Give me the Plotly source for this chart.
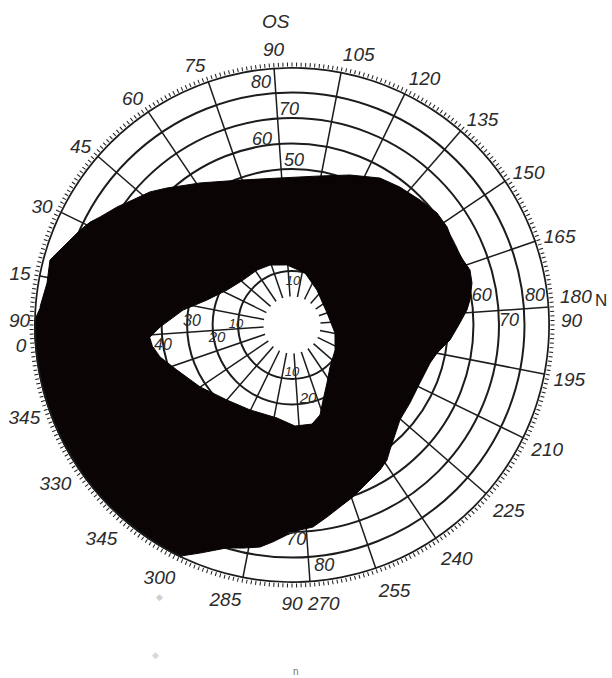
import plotly.graph_objects as go

# ---------------------------------------------------------------- data ----
# meridians printed around the rim (degrees) and the labels printed at them
ANGLE_TICKS = list(range(0, 360, 15))
ANGLE_LABELS = ["0", "15", "30", "45", "60", "75", "90", "105", "120", "135",
                "150", "165", "", "195", "210", "225", "240", "255", "90 270",
                "285", "300", "345", "330", "345"]

# isopter circles (degrees of eccentricity) and the field limit
RINGS = [10, 20, 30, 40, 50, 60, 70, 80]
FIELD_LIMIT = 90

# eccentricity numbers written along the meridians
RING_LABELS = ["80", "70", "60", "50",
               "60", "70", "80",
               "70", "80",
               "10", "20", "30", "40",
               "10",
               "10", "20"]
# numbers written just outside the rim beside the 0 and 180 meridians
RIM_LABELS = ["90", "180", "90"]

# scotoma, outer edge: meridian (deg) and eccentricity (deg)
SCOTOMA_OUTER_THETA = [8.1, 13.7, 19.0, 19.9, 22.8, 28.1, 31.0, 33.4, 38.0, 42.2,
                       47.1, 51.6, 57.1, 61.1, 74.3, 89.3, 104.6, 115.1, 124.9,
                       132.0, 139.7, 146.3, 151.7, 157.0, 163.2, 166.8, 170.9,
                       176.0, 179.1, 183.3, 189.4, 194.9, 199.4, 208.4, 217.5,
                       225.3, 235.9, 238.9, 242.8, 248.6, 254.5, 259.2, 263.7,
                       268.1, 271.8, 275.4, 279.0, 282.2, 286.4, 290.3, 296.0,
                       299.4, 300, 315, 330, 345, 0, 5]
SCOTOMA_OUTER_R = [87.9, 86.3, 87.1, 86.3, 83.7, 79.9, 77.7, 75.2, 71.6, 68.2,
                   65.2, 61.6, 57.5, 55.2, 49.2, 46.7, 48.3, 51.9, 56.0,
                   57.5, 59.0, 60.7, 60.8, 59.7, 60.6, 61.9, 61.3,
                   59.3, 57.7, 54.7, 51.1, 46.8, 45.0, 43.9, 44.3,
                   45.2, 51.1, 53.6, 55.4, 57.4, 60.4, 62.6, 65.4,
                   68.5, 69.3, 71.2, 74.2, 76.8, 78.4, 79.9, 85.3,
                   89.0, 96, 96, 96, 96, 96, 90]

# scotoma, inner edge around the spared central island
SCOTOMA_INNER_THETA = [359.2, 3.1, 11.8, 20.4, 32.3, 46.6, 61.5, 73.9, 89.2,
                       108.0, 129.5, 165.1, 194.5, 214.2, 231.9, 242.9, 251.5,
                       256.7, 262.6, 272.3, 283.2, 300.3, 314.9, 330.0, 342.6,
                       350.4, 355.0]
SCOTOMA_INNER_R = [44.7, 40.6, 32.0, 23.6, 17.8, 14.9, 14.4, 13.9, 12.5,
                   9.9, 5.7, 3.4, 6.0, 8.4, 11.1, 15.4, 20.7,
                   25.8, 28.5, 28.5, 25.8, 26.0, 27.8, 32.3, 37.3,
                   42.1, 44.0]

# --------------------------------------------------------------- style ----
LINE = "#1c1c1c"
INK = "#0a0404"
TEXT = "#2b2b2b"
FONT = "Liberation Sans Narrow, Liberation Sans, Arial, sans-serif"

# placement of the meridian numbers (theta, r) and their sizes
RING_LABEL_POS = [(86.7, 84.5), (93.2, 73.1), (84.8, 62.3), (94.7, 52.8),
                  (175.6, 64.1), (183.2, 73.9), (177.2, 84.8),
                  (272.9, 73.5), (266.4, 84.2),
                  (4.0, 10.8), (354.2, 18.7), (5.7, 28.1), (354.8, 40.1),
                  (95.3, 5.7),
                  (274.0, 7.7), (261.8, 18.5)]
RING_LABEL_SIZE = [18, 18, 18, 18, 18, 18, 18, 18, 18,
                   13, 15, 16, 16, 13, 13, 15]
# paper positions of the rim numbers
RIM_LABEL_XY = [(0.0327, 0.528), (0.941, 0.5634), (0.9346, 0.528)]

fig = go.Figure()

# meridian spokes, from the central disc out to the field limit
spoke_t, spoke_r = [], []
for t in ANGLE_TICKS:
    spoke_t += [t, t, None]
    spoke_r += [0, FIELD_LIMIT, None]
fig.add_trace(go.Scatterpolar(
    theta=spoke_t, r=spoke_r, mode="lines",
    line=dict(color=LINE, width=1.5), hoverinfo="skip", showlegend=False))

# scotoma: outer edge plus the reversed inner edge leaves the island open
fig.add_trace(go.Scatterpolar(
    theta=SCOTOMA_OUTER_THETA + [None] + SCOTOMA_INNER_THETA[::-1],
    r=SCOTOMA_OUTER_R + [None] + SCOTOMA_INNER_R[::-1],
    mode="lines", fill="toself", fillcolor=INK,
    line=dict(color=INK, width=1), hoverinfo="skip", showlegend=False))

# outer boundary circle of the field
rim_deg = list(range(0, 361))
fig.add_trace(go.Scatterpolar(
    theta=rim_deg, r=[FIELD_LIMIT - 0.2] * len(rim_deg), mode="lines",
    line=dict(color=LINE, width=2.6), hoverinfo="skip", showlegend=False))

# eccentricity numbers along the meridians
fig.add_trace(go.Scatterpolar(
    theta=[p[0] for p in RING_LABEL_POS], r=[p[1] for p in RING_LABEL_POS],
    mode="text", text=RING_LABELS,
    textfont=dict(family=FONT, size=RING_LABEL_SIZE, color=TEXT, style="italic"),
    hoverinfo="skip", showlegend=False))

# rim ticks every degree, labelled every 15 degrees
rim_ticks = list(range(0, 360))
rim_text = [ANGLE_LABELS[ANGLE_TICKS.index(t)] if t in ANGLE_TICKS else ""
            for t in rim_ticks]

label_font = dict(family=FONT, size=19, color=TEXT, style="italic")
annotations = [
    dict(text=txt, x=xy[0], y=xy[1], xref="paper", yref="paper",
         xanchor="center", yanchor="middle", showarrow=False, font=label_font)
    for txt, xy in zip(RIM_LABELS, RIM_LABEL_XY)
]
annotations += [
    dict(text="OS", x=0.451, y=0.969, xref="paper", yref="paper",
         xanchor="center", yanchor="middle", showarrow=False,
         font=dict(family=FONT, size=19, color=TEXT, style="italic")),
    dict(text="N", x=0.982, y=0.5575, xref="paper", yref="paper",
         xanchor="center", yanchor="middle", showarrow=False,
         font=dict(family=FONT, size=17, color=TEXT)),
    dict(text="n", x=0.4837, y=0.0103, xref="paper", yref="paper",
         xanchor="center", yanchor="middle", showarrow=False,
         font=dict(family=FONT, size=10, color="#777777")),
    dict(text="◆", x=0.2614, y=0.1195, xref="paper", yref="paper",
         xanchor="center", yanchor="middle", showarrow=False,
         font=dict(size=9, color="#cfcfcf")),
    dict(text="◆", x=0.2549, y=0.034, xref="paper", yref="paper",
         xanchor="center", yanchor="middle", showarrow=False,
         font=dict(size=9, color="#d8d8d8")),
]

fig.update_layout(
    width=612, height=678,
    margin=dict(l=0, r=0, t=0, b=0),
    paper_bgcolor="white",
    showlegend=False,
    polar=dict(
        domain=dict(x=[0.0556, 0.8987], y=[0.1401, 0.9012]),
        hole=0.11,
        bgcolor="white",
        radialaxis=dict(range=[0, FIELD_LIMIT], tickmode="array", tickvals=RINGS,
                        showticklabels=False, ticks="", showline=False,
                        showgrid=True, gridcolor=LINE, gridwidth=1.5),
        angularaxis=dict(rotation=184, direction="clockwise",
                         tickmode="array", tickvals=rim_ticks, ticktext=rim_text,
                         ticks="outside", ticklen=4, tickwidth=1, tickcolor=LINE,
                         showline=False, showgrid=False, tickfont=label_font),
    ),
    annotations=annotations,
)

fig.write_html("out.html")
